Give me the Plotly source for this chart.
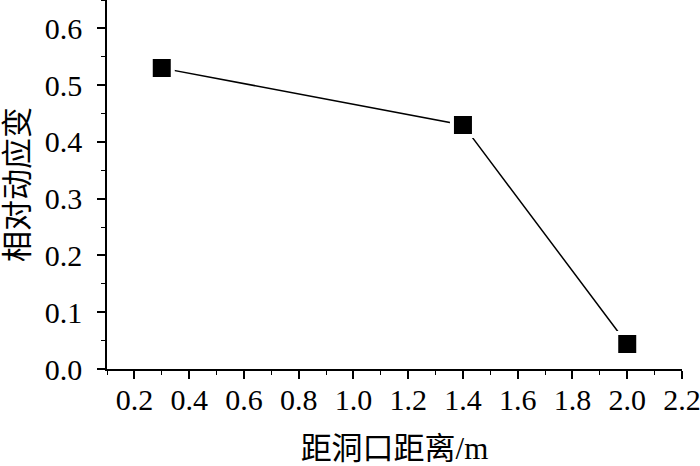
import plotly.graph_objects as go

# distance from tunnel portal (m) and relative dynamic strain
distance = [0.3, 1.4, 2.0]
rel_strain = [0.53, 0.43, 0.044]

x_title = "距洞口距离/m"
y_title = "相对动应变"

FONT = '"Liberation Serif", "Times New Roman", "Noto Sans CJK SC", serif'

fig = go.Figure()
fig.add_trace(go.Scatter(
    x=distance, y=rel_strain,
    mode="lines+markers",
    line=dict(color="black", width=1.5),
    marker=dict(symbol="square", size=22, color="black",
                line=dict(color="white", width=4)),
    showlegend=False,
))

axis_common = dict(
    showgrid=False, zeroline=False,
    showline=True, linecolor="black", linewidth=1.6,
    ticks="outside", ticklen=8, tickwidth=1.6, tickcolor="black",
    tickfont=dict(family=FONT, size=30, color="black"),
    ticklabeloverflow="allow",
)

fig.update_xaxes(
    range=[0.1, 2.2], tick0=0.2, dtick=0.2, tickformat=".1f",
    minor=dict(ticks="outside", ticklen=4, tickwidth=1.4, tickcolor="black",
               tick0=0.1, dtick=0.1),
    ticklabelstandoff=-5,
    title=dict(text=x_title, font=dict(family=FONT, size=31, color="black"), standoff=25),
    **axis_common,
)
fig.update_yaxes(
    range=[0, 0.65], tick0=0, dtick=0.1, tickformat=".1f",
    minor=dict(ticks="outside", ticklen=4, tickwidth=1.4, tickcolor="black",
               tick0=0, dtick=0.05),
    ticklabelstandoff=9,
    title=dict(text=y_title, font=dict(family=FONT, size=31, color="black"), standoff=16),
    **axis_common,
)

fig.update_layout(
    width=700, height=466,
    margin=dict(l=107, r=18, t=0, b=97),
    plot_bgcolor="white", paper_bgcolor="white",
)

fig.write_html("out.html", config={"displayModeBar": False},
               post_script="document.body.style.margin='0';")
